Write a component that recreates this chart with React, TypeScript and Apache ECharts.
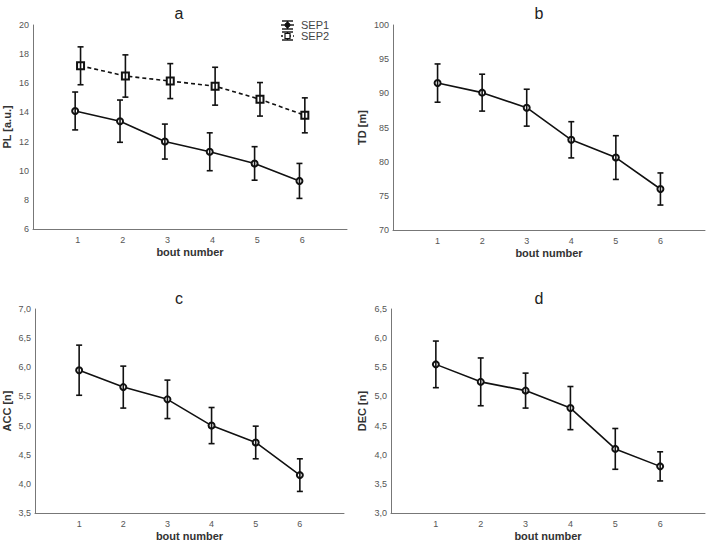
import { useEffect, useRef } from 'react';
import * as echarts from 'echarts';

// bout numbers on the x axis
const bouts = [1, 2, 3, 4, 5, 6];

// a: player load (two sessions)
const plSep1 = [14.1, 13.4, 12.0, 11.3, 10.5, 9.3];
const plSep1Err = [1.3, 1.45, 1.2, 1.3, 1.15, 1.2];
const plSep2 = [17.2, 16.5, 16.15, 15.8, 14.9, 13.8];
const plSep2Err = [1.3, 1.45, 1.2, 1.3, 1.15, 1.2];

// b: total distance
const td = [91.5, 90.1, 87.9, 83.2, 80.6, 76.0];
const tdErr = [2.8, 2.7, 2.7, 2.65, 3.2, 2.35];

// c: accelerations
const acc = [5.95, 5.66, 5.45, 5.0, 4.71, 4.15];
const accErr = [0.43, 0.36, 0.33, 0.31, 0.28, 0.28];

// d: decelerations
const dec = [5.55, 5.25, 5.1, 4.8, 4.1, 3.8];
const decErr = [0.4, 0.41, 0.3, 0.37, 0.35, 0.25];

const INK = '#111';
const FONT = 'Liberation Sans';

const GRIDS = [
  { left: 29, top: 25, width: 318, height: 204 },
  { left: 393, top: 25, width: 313, height: 205 },
  { left: 31, top: 309, width: 313, height: 207 },
  { left: 391, top: 309, width: 315, height: 206 },
];

const comma = (v: number) => v.toFixed(1).replace('.', ',');

function errorBars(idx: number, xs: number[], ys: number[], errs: number[]) {
  return {
    type: 'custom',
    xAxisIndex: idx,
    yAxisIndex: idx,
    z: 5,
    data: xs.map((x, i) => [x, ys[i] - errs[i], ys[i] + errs[i]]),
    encode: { x: 0, y: [1, 2] },
    renderItem: (_p: any, api: any) => {
      const x = api.value(0);
      const top = api.coord([x, api.value(2)]);
      const bot = api.coord([x, api.value(1)]);
      const w = 3;
      const st = { stroke: INK, lineWidth: 1.6 };
      return {
        type: 'group',
        children: [
          { type: 'line', shape: { x1: top[0], y1: top[1], x2: bot[0], y2: bot[1] }, style: st },
          { type: 'line', shape: { x1: top[0] - w, y1: top[1], x2: top[0] + w, y2: top[1] }, style: st },
          { type: 'line', shape: { x1: bot[0] - w, y1: bot[1], x2: bot[0] + w, y2: bot[1] }, style: st },
        ],
      };
    },
  };
}

function lineSeries(idx: number, name: string, xs: number[], ys: number[], symbol: string, dashed = false) {
  return {
    type: 'line',
    name,
    xAxisIndex: idx,
    yAxisIndex: idx,
    data: xs.map((x, i) => [x, ys[i]]),
    symbol,
    symbolSize: symbol === 'emptyRect' ? 7 : 6,
    lineStyle: { color: INK, width: 1.6, type: dashed ? [4, 3] : 'solid' },
    itemStyle: { color: INK, borderWidth: 1.3 },
    z: 3,
  };
}

function xAxis(idx: number) {
  return {
    type: 'value',
    gridIndex: idx,
    min: 0,
    max: 7,
    interval: 1,
    name: 'bout number',
    nameLocation: 'middle',
    nameGap: 17,
    nameTextStyle: { fontFamily: FONT, fontSize: 11, fontWeight: 'bold', color: '#333' },
    axisLine: { lineStyle: { color: '#777', width: 1 } },
    axisTick: { show: false },
    splitLine: { show: false },
    axisLabel: {
      fontFamily: FONT,
      fontSize: 9,
      color: '#555',
      margin: 6,
      formatter: (v: number) => (v >= 1 && v <= 6 ? String(v) : ''),
    },
  };
}

function yAxis(idx: number, name: string, min: number, max: number, interval: number, gap: number, fmt: (v: number) => string) {
  return {
    type: 'value',
    gridIndex: idx,
    min,
    max,
    interval,
    name,
    nameLocation: 'middle',
    nameRotate: 90,
    nameGap: gap,
    nameTextStyle: { fontFamily: FONT, fontSize: 11, fontWeight: 'bold', color: '#333' },
    axisLine: { show: true, lineStyle: { color: '#777', width: 1 } },
    axisTick: { show: false },
    splitLine: { show: false },
    axisLabel: { fontFamily: FONT, fontSize: 9, color: '#555', margin: 4, formatter: fmt },
  };
}

function legendRow(cy: number, rect: boolean, dashed: boolean, label: string) {
  const st = { stroke: INK, lineWidth: 1.4 };
  const items: any[] = [
    { type: 'line', shape: { x1: 282, y1: cy - 4, x2: 293, y2: cy - 4 }, style: st },
    { type: 'line', shape: { x1: 282, y1: cy + 4, x2: 293, y2: cy + 4 }, style: st },
    { type: 'line', shape: { x1: 287.5, y1: cy - 4, x2: 287.5, y2: cy + 4 }, style: st },
    {
      type: 'line',
      shape: { x1: 281, y1: cy, x2: 294, y2: cy },
      style: { ...st, lineDash: dashed ? [2, 2] : null },
    },
    rect
      ? { type: 'rect', shape: { x: 285, y: cy - 2.5, width: 5, height: 5 }, style: { fill: '#fff', stroke: INK, lineWidth: 1.2 } }
      : { type: 'circle', shape: { cx: 287.5, cy, r: 2.5 }, style: { fill: INK, stroke: INK, lineWidth: 1 } },
    {
      type: 'text',
      x: 301,
      y: cy,
      style: { text: label, fontFamily: FONT, fontSize: 11, fill: '#444', verticalAlign: 'middle' },
    },
  ];
  return items;
}

export default function App() {
  const ref = useRef<HTMLDivElement>(null);

  useEffect(() => {
    if (!ref.current) return;
    const chart = echarts.init(ref.current, undefined, { renderer: 'svg' });

    const off = 0.06;
    const sep1X = bouts.map((b) => b - off);
    const sep2X = bouts.map((b) => b + off);

    const titleAt = (text: string, left: number, top: number) => ({
      text,
      left,
      top,
      textAlign: 'center',
      textStyle: { fontFamily: FONT, fontSize: 16, fontWeight: 'normal', color: '#222' },
    });

    chart.setOption({
      animation: false,
      backgroundColor: '#fff',
      title: [
        titleAt('a', 174, 0),
        titleAt('b', 534, 0),
        titleAt('c', 174, 285),
        titleAt('d', 534, 285),
      ],
      grid: GRIDS.map((g) => ({ ...g, containLabel: false })),
      xAxis: [xAxis(0), xAxis(1), xAxis(2), xAxis(3)],
      yAxis: [
        yAxis(0, 'PL [a.u.]', 6, 20, 2, 21, (v) => String(v)),
        yAxis(1, 'TD [m]', 70, 100, 5, 26, (v) => String(v)),
        yAxis(2, 'ACC [n]', 3.5, 7, 0.5, 23, comma),
        yAxis(3, 'DEC [n]', 3, 6.5, 0.5, 24, comma),
      ],
      series: [
        lineSeries(0, 'SEP1', sep1X, plSep1, 'emptyCircle'),
        errorBars(0, sep1X, plSep1, plSep1Err),
        lineSeries(0, 'SEP2', sep2X, plSep2, 'emptyRect', true),
        errorBars(0, sep2X, plSep2, plSep2Err),
        lineSeries(1, 'TD', bouts, td, 'emptyCircle'),
        errorBars(1, bouts, td, tdErr),
        lineSeries(2, 'ACC', bouts, acc, 'emptyCircle'),
        errorBars(2, bouts, acc, accErr),
        lineSeries(3, 'DEC', bouts, dec, 'emptyCircle'),
        errorBars(3, bouts, dec, decErr),
      ],
      graphic: [...legendRow(25, false, false, 'SEP1'), ...legendRow(36, true, true, 'SEP2')],
    });

    return () => chart.dispose();
  }, []);

  return (
    <div
      ref={ref}
      style={{ position: 'absolute', left: 0, top: 0, width: 708, height: 542, background: '#fff' }}
    />
  );
}
